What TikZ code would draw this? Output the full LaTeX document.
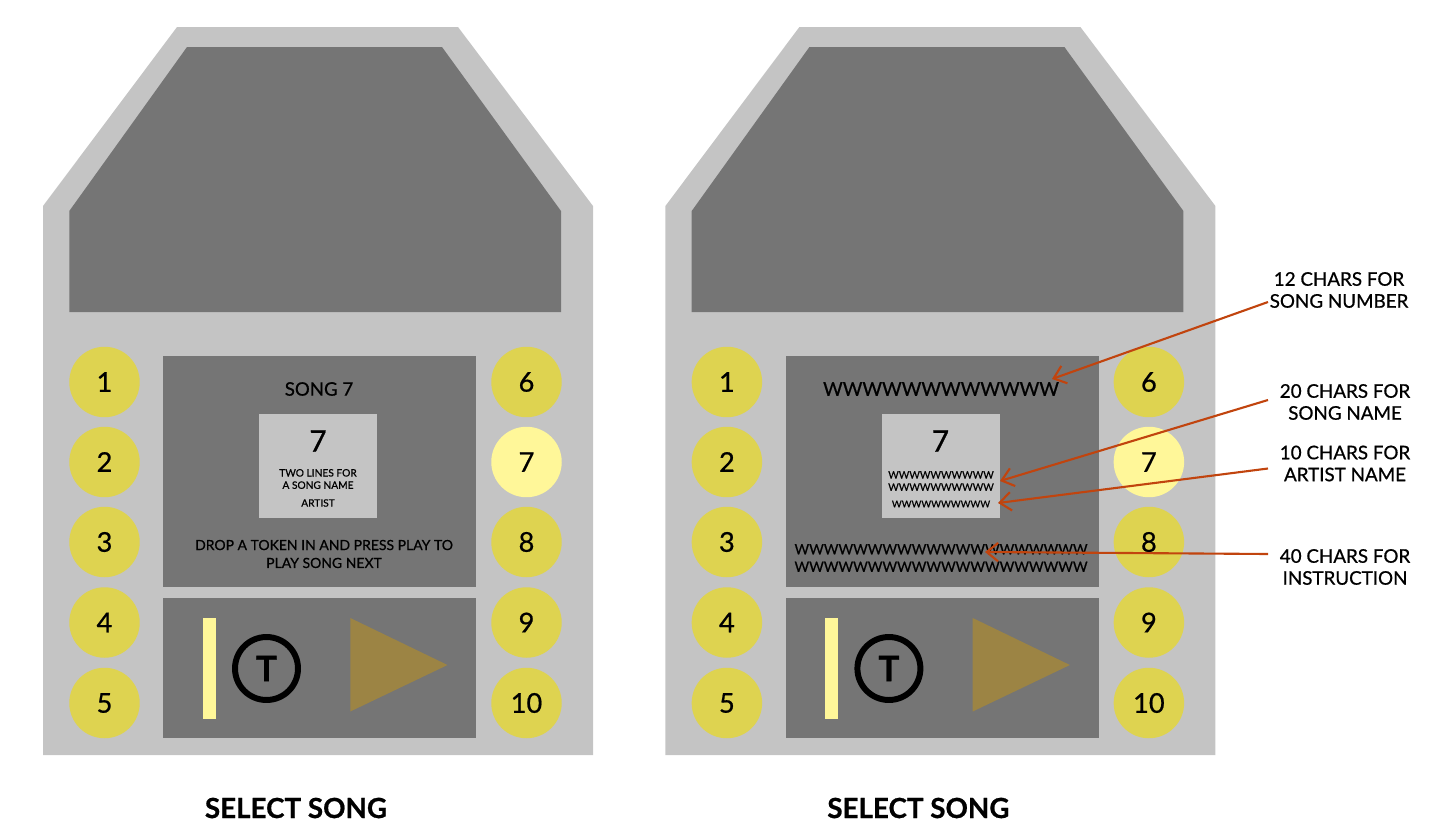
\documentclass[tikz,border=0pt]{standalone}
\usepackage{fontspec}
\setmainfont{Lato}[FakeBold=0.7]
\usepackage{tikz}
\usetikzlibrary{positioning,arrows.meta}
\definecolor{casing}{HTML}{C4C4C4}
\definecolor{screen}{HTML}{757575}
\definecolor{btnoff}{HTML}{DED350}
\definecolor{btnon}{HTML}{FFF799}
\definecolor{playtri}{HTML}{9C8444}
\definecolor{callout}{HTML}{C1440E}
\tikzset{
  songbtn/.style={circle,fill=btnoff,minimum size=1.41cm,inner sep=0pt,font=\fontsize{15.5}{18}\selectfont},
  songbtnon/.style={songbtn,fill=btnon},
  tokenring/.style={circle,draw=black,line width=3.4pt,minimum size=1.26cm,inner sep=0pt,font=\bfseries\fontsize{20}{24}\selectfont},
  note/.style={align=center,inner sep=0pt,font=\fontsize{10.7}{12.5}\selectfont},
  caption/.style={font=\bfseries\fontsize{15.8}{18}\selectfont},
  lbl/.style={align=center,inner sep=0pt},
  pointer/.style={-{Straight Barb[length=6.5pt,width=10.5pt]},callout,line width=1.2pt},
}
\begin{document}
\begin{tikzpicture}[x=0.02cm,y=-0.02cm]
  \useasboundingbox (0,0) rectangle (1430,835);
  % both kiosks
  \foreach \dx/\pre in {0/l,622.4/r}{
    \begin{scope}[xshift=\dx*0.02cm]
      \fill[casing] (43,755)--(43,206)--(177,27)--(458,27)--(593,206)--(593,755)--cycle;
      \fill[screen] (69.3,312)--(69.3,211)--(187,47)--(442,47)--(561,211)--(561,312)--cycle;
      \fill[screen] (163.4,356) rectangle (476.4,586.5);
      \fill[screen] (163.4,598) rectangle (476.4,738);
      \fill[casing] (259.4,414) rectangle (377.4,518);
      \fill[btnon] (203,618) rectangle (215.5,719);
      \fill[playtri] (350.3,618)--(447.5,665)--(350.3,711.5)--cycle;
      \node[tokenring] (\pre tok) at (266.5,668.5) {T};
      \foreach \n/\yy in {1/382,2/462,3/542,4/622.5,5/703}
        \node[songbtn] (\pre btn\n) at (104.5,\yy) {\n};
      \foreach \n/\yy in {6/382,8/542,9/622.5,10/703}
        \node[songbtn] (\pre btn\n) at (526.5,\yy) {\n};
      \node[songbtnon] (\pre btn7) at (526.5,462) {7};
      \node[lbl,font=\fontsize{17}{20}\selectfont] (\pre card) at (318,441) {7};
      \node[caption] (\pre cap) at (296,808) {SELECT SONG};
    \end{scope}
  }
  % left texts
  \node[lbl,font=\fontsize{10.6}{12}\selectfont] (song) at (319,389) {SONG 7};
  \node[lbl,font=\fontsize{5.8}{7}\selectfont] (title) at (318,479) {TWO LINES FOR\\A SONG NAME};
  \node[lbl,font=\fontsize{5.8}{7}\selectfont] (artist) at (318,503) {ARTIST};
  \node[lbl,font=\fontsize{7.95}{10.2}\selectfont] (drop) at (324,554) {DROP A TOKEN IN AND PRESS PLAY TO\\PLAY SONG NEXT};
  % right placeholders
  \node[lbl,font=\fontsize{10.8}{12}\selectfont] (wnum) at (941,389) {WWWWWWWWWWWW};
  \node[lbl,font=\fontsize{5.8}{7}\selectfont] (wname) at (941,481) {WWWWWWWWWW\\WWWWWWWWWW};
  \node[lbl,font=\fontsize{5.4}{7}\selectfont] (wart) at (941,504) {WWWWWWWWWW};
  \node[lbl,font=\fontsize{8.05}{10}\selectfont] (winst) at (941,558) {WWWWWWWWWWWWWWWWWWWW\\WWWWWWWWWWWWWWWWWWWW};
  % notes
  \node[note] (n1) at (1339,290) {12 CHARS FOR\\SONG NUMBER};
  \node[note] (n2) at (1345,402) {20 CHARS FOR\\SONG NAME};
  \node[note] (n3) at (1345,463.5) {10 CHARS FOR\\ARTIST NAME};
  \node[note] (n4) at (1345,567) {40 CHARS FOR\\INSTRUCTION};
  \coordinate (t1) at (1052,379);
  \coordinate (t2) at (1000,481);
  \coordinate (t3) at (998,503);
  \coordinate (t4) at (985,552);
  \coordinate (s1) at (1268,302);
  \coordinate (s2) at (1268,400);
  \coordinate (s3) at (1268,468.5);
  \coordinate (s4) at (1268,554);
  \draw[pointer] (s1) -- (t1);
  \draw[pointer] (s2) -- (t2);
  \draw[pointer] (s3) -- (t3);
  \draw[pointer] (s4) -- (t4);
\end{tikzpicture}
\end{document}
